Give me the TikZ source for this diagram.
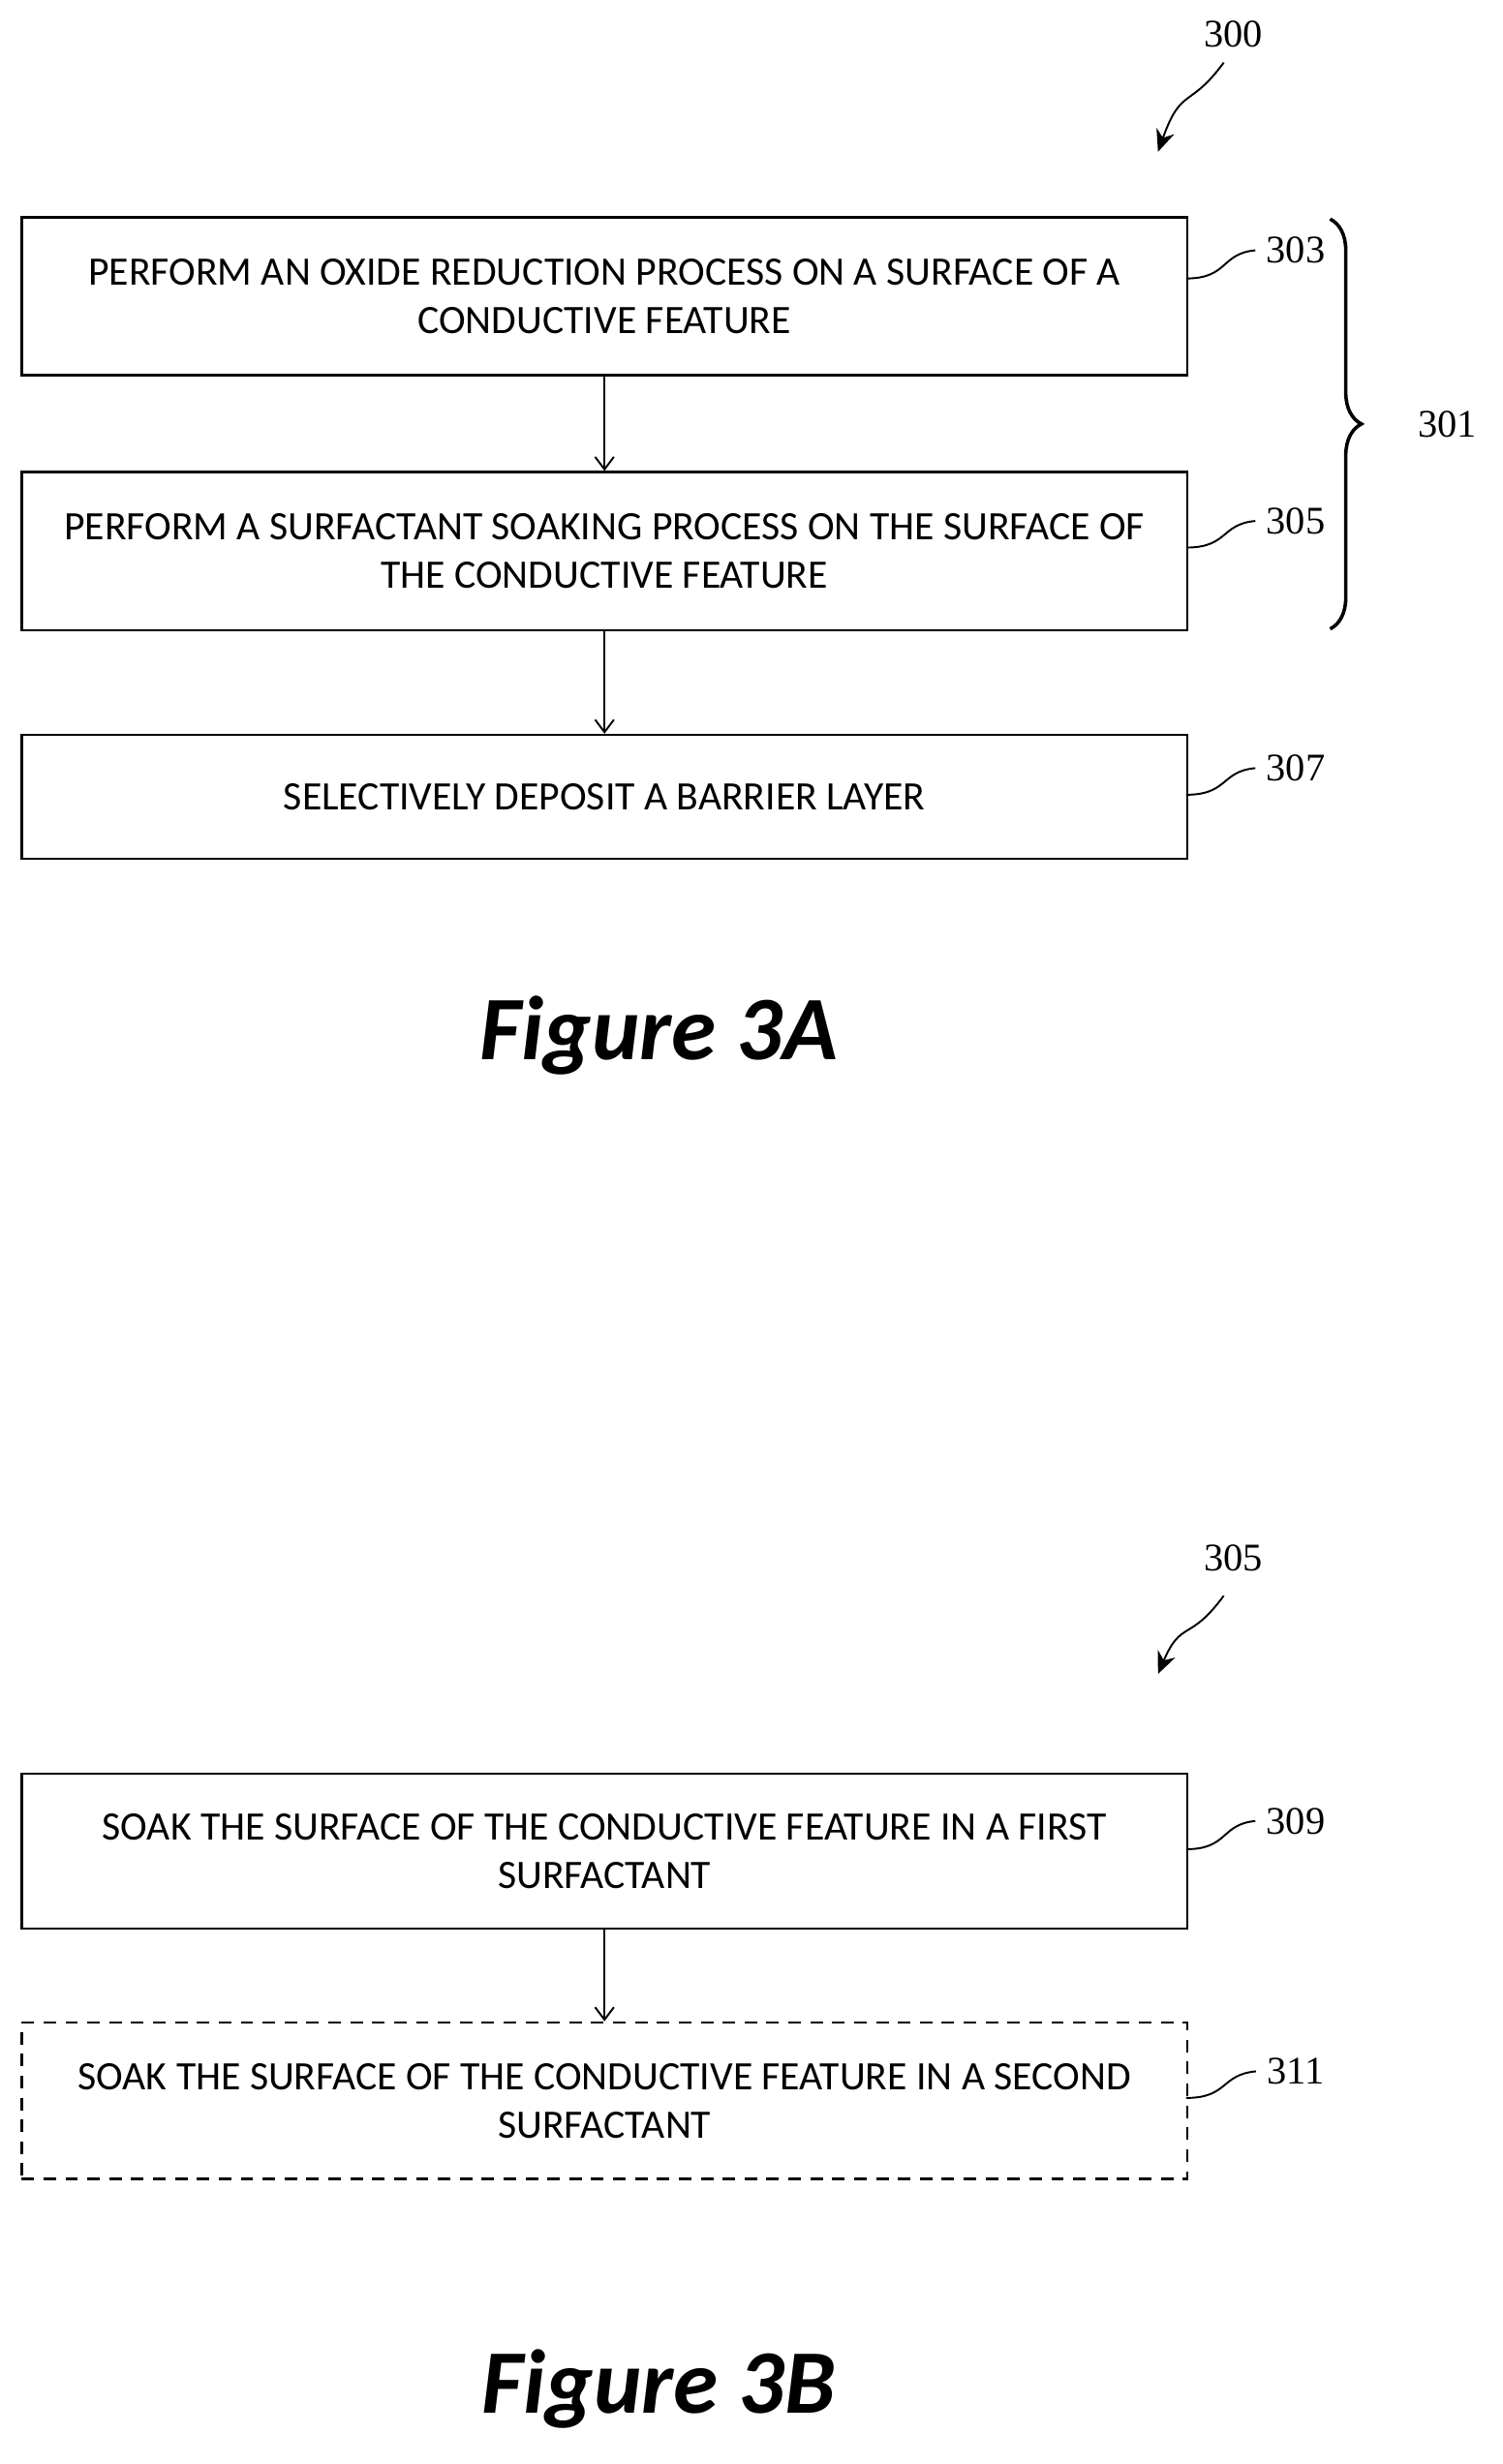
\documentclass[tikz,border=0pt]{standalone}
\usepackage{fontspec}
\setmainfont{Carlito}
\newfontfamily\numfont{Liberation Serif}
\usetikzlibrary{decorations.pathreplacing,arrows.meta}
\begin{document}
\begin{tikzpicture}[x=0.5pt,y=0.5pt,
  box/.style={draw,line width=0.8pt,minimum width=372.5pt,anchor=north west,inner sep=0pt,align=center,font=\fontsize{12.9}{15.5}\selectfont},
  num/.style={font=\numfont\fontsize{12.5}{14}\selectfont},
  lead/.style={line width=0.6pt},
  arr/.style={line width=0.6pt,-{Straight Barb[length=4pt,width=6pt]}},
  fig/.style={font=\bfseries\itshape\fontsize{29}{32}\selectfont}]
\fill[white] (0,0) rectangle (960,-1575);
\node[box,minimum height=50.5pt] (b1) at (13,-138) {PERFORM AN OXIDE REDUCTION PROCESS ON A SURFACE OF A\\CONDUCTIVE FEATURE};
\node[box,minimum height=50.5pt] (b2) at (13,-301) {PERFORM A SURFACTANT SOAKING PROCESS ON THE SURFACE OF\\THE CONDUCTIVE FEATURE};
\node[box,minimum height=39.5pt] (b3) at (13,-469) {SELECTIVELY DEPOSIT A BARRIER LAYER};
\draw[arr] (b1.south) -- (b2.north);
\draw[arr] (b2.south) -- (b3.north);
\node[num] (n303) at (828,-160) {303};
\node[num] (n305) at (828,-333) {305};
\node[num] (n307) at (828,-491) {307};
\draw[lead] (758,-178) .. controls (785,-178) and (780,-162) .. (n303.west);
\draw[lead] (758,-350) .. controls (785,-350) and (780,-335) .. (n305.west);
\draw[lead] (758,-508) .. controls (785,-508) and (780,-493) .. (n307.west);
\draw[line width=1.1pt,decorate,decoration={brace,amplitude=10pt,aspect=0.5}] (850,-140) -- (850,-402);
\node[num] (n301) at (925,-271) {301};
\node[num] (n300) at (788,-22) {300};
\coordinate (a1) at (740,-97);
\draw[lead,-{Stealth[length=7pt,width=6pt]}] (782,-40) .. controls (760,-70) and (755,-55) .. (a1);
\node[fig] (f3a) at (421,-662) {Figure 3A};
\node[num] (n305b) at (788,-996) {305};
\coordinate (a2) at (740,-1070);
\draw[lead,-{Stealth[length=7pt,width=6pt]}] (782,-1020) .. controls (760,-1050) and (755,-1035) .. (a2);
\node[box,minimum height=49.5pt] (b4) at (13,-1133) {SOAK THE SURFACE OF THE CONDUCTIVE FEATURE IN A FIRST\\SURFACTANT};
\node[box,minimum height=50pt,dashed,dash pattern=on 4pt off 3pt] (b5) at (13,-1292) {SOAK THE SURFACE OF THE CONDUCTIVE FEATURE IN A SECOND\\SURFACTANT};
\draw[arr] (b4.south) -- (b5.north);
\node[num] (n309) at (828,-1164) {309};
\node[num] (n311) at (828,-1324) {311};
\draw[lead] (758,-1182) .. controls (785,-1182) and (780,-1166) .. (n309.west);
\draw[lead] (758,-1341) .. controls (785,-1341) and (780,-1326) .. (n311.west);
\node[fig] (f3b) at (421,-1527) {Figure 3B};
\end{tikzpicture}
\end{document}
